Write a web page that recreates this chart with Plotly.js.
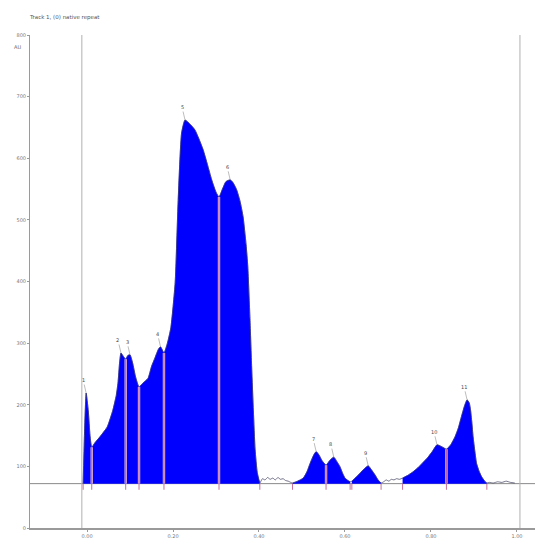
<!DOCTYPE html>
<html>
<head>
<meta charset="utf-8">
<script src="https://cdn.plot.ly/plotly-3.0.1.min.js"></script>
<style>html,body{margin:0;padding:0;background:#fff;}#chart{width:535px;height:538px;}</style>
</head>
<body>
<div id="chart"></div>
<script>
// ---- data ----
const titleText = "Track 1, (0) native repeat";
const yUnit = "AU";
const baselineValue = 72;

const timeX = [
  -0.009,-0.006,-0.002,0.003,0.007,0.011,0.018,0.030,0.047,0.060,0.068,0.072,0.076,0.079,0.085,0.090,0.095,0.100,
  0.106,0.113,0.121,0.130,0.142,0.150,0.158,0.166,0.171,0.179,0.187,0.195,0.205,0.212,0.220,0.228,0.240,0.251,
  0.260,0.270,0.280,0.290,0.300,0.307,0.315,0.323,0.333,0.340,0.348,0.356,0.363,0.370,0.374,0.379,0.383,0.387,
  0.391,0.396,0.402,
  0.408,0.414,0.420,0.426,0.432,0.438,0.444,0.450,0.456,0.462,0.468,0.474,
  0.478,0.490,0.503,0.512,0.519,0.527,0.533,0.540,0.546,0.556,0.565,0.574,0.581,0.588,0.595,0.600,0.607,0.612,
  0.616,0.625,0.635,0.645,0.654,0.662,0.670,0.677,0.684,
  0.690,0.696,0.702,0.708,0.714,0.720,0.727,
  0.734,0.745,0.758,0.770,0.781,0.792,0.803,0.814,0.825,0.836,0.846,0.856,0.864,0.871,0.878,0.884,0.889,0.892,
  0.895,0.898,0.902,0.906,0.912,0.918,0.925,0.930,
  0.936,0.945,0.955,0.965,0.975,0.985,0.995
];
const signal = [
  72,150,219,190,150,131,138,148,164,191,215,235,270,284,278,274,280,281,
  268,245,229,235,243,262,276,290,294,284,300,325,398,532,641,662,655,646,
  632,614,590,565,545,537,550,562,565,560,549,530,505,460,424,340,261,190,
  127,90,73,
  80,78,82,79,81,78,82,79,80,77,76,74,
  73,76,81,92,105,118,124,118,110,102,110,115,108,100,88,81,77,75,
  76,82,89,96,101,94,86,78,73,
  75,78,76,79,78,80,79,
  81,85,91,98,106,114,124,135,132,128,135,148,163,181,198,208,203,192,
  172,148,125,105,92,83,76,73,
  74,73,75,74,76,74,73
];

// integrated (filled) segments: start / end times
const segStart = [-0.009, 0.478, 0.616, 0.734];
const segEnd   = [0.402, 0.612, 0.684, 0.930];

// drop lines between merged peaks
const dropX = [0.011, 0.090, 0.121, 0.179, 0.307, 0.556, 0.836];
// integration boundary marks below the baseline
const markX = [-0.009, 0.011, 0.090, 0.121, 0.179, 0.307, 0.402, 0.478, 0.556, 0.612, 0.616, 0.684, 0.734, 0.836, 0.930];

// peak apexes and labels
const peakX = [-0.002, 0.079, 0.100, 0.171, 0.228, 0.333, 0.533, 0.574, 0.654, 0.814, 0.884];
const peakLabels = ["1","2","3","4","5","6","7","8","9","10","11"];

const yTicks = [0,100,200,300,400,500,600,700,800];
const xTicks = [0,0.2,0.4,0.6,0.8,1.0];
const xTickLabels = ["0.00","0.20","0.40","0.60","0.80","1.00"];

// vertical reference lines (run start / end)
const refLinesX = [-0.012, 1.007];

// ---- build ----
function valueAt(x){
  let best = 0, d = Infinity;
  timeX.forEach((t,i)=>{ if(Math.abs(t-x)<d){d=Math.abs(t-x);best=i;} });
  return signal[best];
}

const traces = [];
traces.push({x:[-0.14,1.05], y:[baselineValue,baselineValue], mode:'lines',
  line:{color:'#8a8a8a', width:1}, hoverinfo:'skip', showlegend:false});
const rx=[], ry=[];
refLinesX.forEach(x=>{rx.push(x,x,null); ry.push(0,800,null);});
traces.push({x:rx, y:ry, mode:'lines', line:{color:'#b0b0b0', width:1}, hoverinfo:'skip', showlegend:false});

// filled segments (fill to baseline)
segStart.forEach((s,k)=>{
  const e = segEnd[k];
  const xs=[], ys=[];
  timeX.forEach((t,i)=>{ if(t>=s-1e-9 && t<=e+1e-9){ xs.push(t); ys.push(signal[i]); } });
  traces.push({x:[s,e], y:[baselineValue,baselineValue], mode:'lines', line:{width:0, color:'rgba(0,0,0,0)'},
    hoverinfo:'skip', showlegend:false});
  traces.push({x:xs, y:ys, mode:'lines', fill:'tonexty', fillcolor:'#0000ff',
    line:{color:'#0000ff', width:0.5, shape:'spline', smoothing:0.5}, hoverinfo:'skip', showlegend:false});
});

// full signal trace
traces.push({x:timeX, y:signal, mode:'lines', line:{color:'#3a3a5a', width:0.7, shape:'spline', smoothing:0.5},
  hoverinfo:'skip', showlegend:false});

// drop lines
const dx=[], dy=[];
dropX.forEach(x=>{dx.push(x,x,null); dy.push(baselineValue, valueAt(x), null);});
traces.push({x:dx, y:dy, mode:'lines', line:{color:'#e6bcd6', width:2.4}, hoverinfo:'skip', showlegend:false});
traces.push({x:dx, y:dy, mode:'lines', line:{color:'#b85c96', width:1}, hoverinfo:'skip', showlegend:false});

// boundary marks
const mx=[], my=[];
markX.forEach(x=>{mx.push(x,x,null); my.push(baselineValue, baselineValue-10, null);});
traces.push({x:mx, y:my, mode:'lines', line:{color:'#c87098', width:1}, hoverinfo:'skip', showlegend:false});

const annotations = peakX.map((x,i)=>({
  x:x, y:valueAt(x), xref:'x', yref:'y', text:peakLabels[i], showarrow:true,
  arrowhead:0, arrowwidth:0.7, arrowcolor:'#a0a0a0', ax:-3, ay:-13, standoff:0,
  font:{size:5, color:'#444', family:'DejaVu Sans'}
}));
annotations.push({x:-0.036, y:0.986, xref:'paper', yref:'paper', text:yUnit, showarrow:false,
  font:{size:5, color:'#666', family:'DejaVu Sans'}});

const layout = {
  width:535, height:538,
  margin:{l:30, r:0, t:35, b:10},
  paper_bgcolor:'#fff', plot_bgcolor:'#fff',
  title:{text:titleText, x:0.056, xanchor:'left', y:0.968, yanchor:'middle',
    font:{size:5.5, color:'#555', family:'DejaVu Sans'}},
  xaxis:{range:[-0.1326, 1.042], tickvals:xTicks, ticktext:xTickLabels, showgrid:false, zeroline:false,
    showline:true, linecolor:'#9a9a9a', linewidth:1.5, ticks:'outside', ticklen:2, tickcolor:'#9a9a9a',
    tickfont:{size:5, color:'#777', family:'DejaVu Sans'}},
  yaxis:{range:[0,800], tickvals:yTicks, showgrid:false, zeroline:false,
    showline:true, linecolor:'#9a9a9a', linewidth:1, ticks:'outside', ticklen:2, tickcolor:'#9a9a9a',
    tickfont:{size:5, color:'#777', family:'DejaVu Sans'}},
  annotations:annotations,
  showlegend:false
};

Plotly.newPlot('chart', traces, layout, {staticPlot:true, displayModeBar:false});
</script>
</body>
</html>
